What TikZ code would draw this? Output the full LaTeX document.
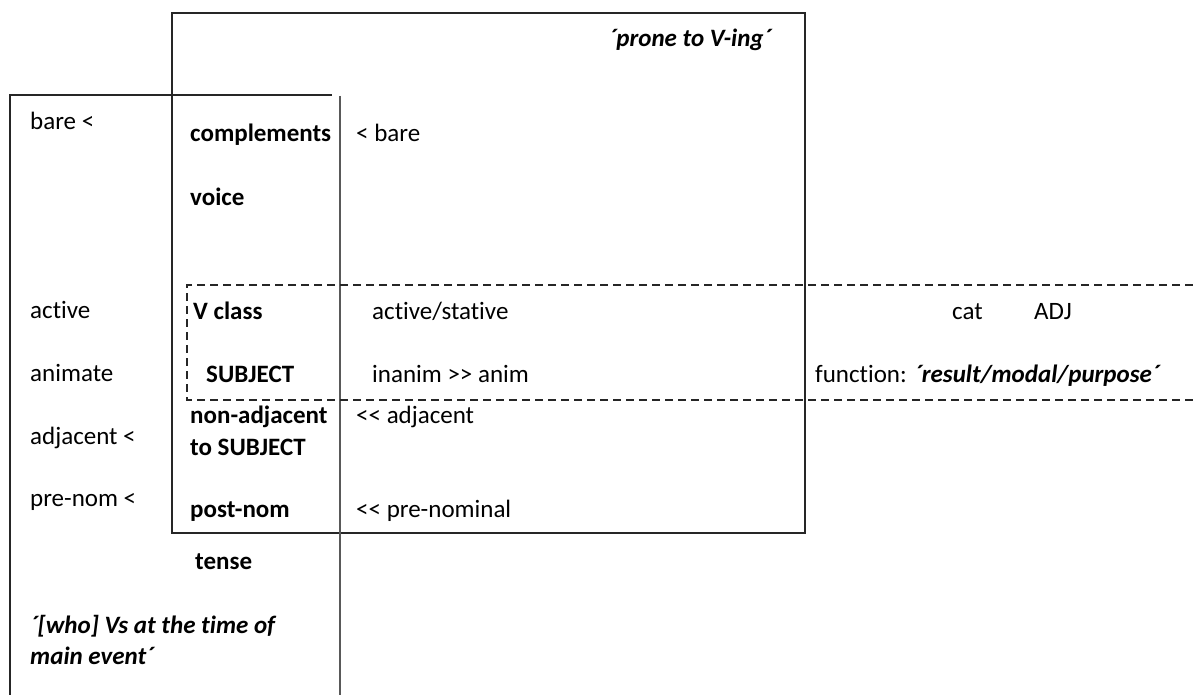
\documentclass[tikz,border=0pt]{standalone}
\usepackage{fontspec}
\setmainfont{Carlito}[Ligatures={TeX,NoCommon}]
% keep << and >> as two separate signs
\newcommand{\dbl}[1]{#1\kern0pt#1}
\begin{document}
\begin{tikzpicture}[x=1pt,y=-1pt,
  lbl/.style={anchor=base west,inner sep=0pt,font=\fontsize{25}{32}\selectfont},
  feat/.style={lbl,font=\fontsize{25}{32}\selectfont\bfseries},
  gloss/.style={lbl,font=\fontsize{25}{32}\selectfont\bfseries\itshape},
  frame/.style={line width=1.2pt,draw=black!85},
  dash box/.style={line width=1.2pt,draw=black!85,dash pattern=on 8pt off 5pt}]
\useasboundingbox (0,0) rectangle (1193,695);

% outer box: 'prone to V-ing'
\draw[frame] (172,13) rectangle (805,533);
% left open box
\draw[frame] (10,695) -- (10,95) -- (332,95);
\draw[frame,draw=black!65] (340,96) -- (340,695);
% dashed band
\draw[dash box] (1193,285) -- (187,285) -- (187,400) -- (1193,400);

% texts
\node[gloss,anchor=base] (prone) at (690,47) {´prone to V-ing´};

\node[lbl] (bareL) at (30,130) {bare <};
\node[feat] (compl) at (190,142) {complements};
\node[lbl] (bareR) at (356,142) {< bare};
\node[feat] (voice) at (190,205) {voice};

\node[lbl] (activeL) at (30,318) {active};
\node[feat] (vclass) at (193,319) {V class};
\node[lbl] (actstat) at (372,319) {active/stative};
\node[lbl] (cat) at (952,319) {cat};
\node[lbl] (adj) at (1034,319) {ADJ};

\node[lbl] (animL) at (30,381) {animate};
\node[feat] (subj) at (206,382) {SUBJECT};
\node[lbl] (inanim) at (372,382) {inanim \dbl{>} anim};
\node[lbl] (func) at (815,382) {function: \textbf{\textit{´result/modal/purpose´}}};

\node[lbl] (adjL) at (30,444) {adjacent <};
\node[feat] (nonadj) at (190,423) {non-adjacent};
\node[feat] (tosubj) at (190,455) {to SUBJECT};
\node[lbl] (adjR) at (356,423) {\dbl{<} adjacent};

\node[lbl] (prenomL) at (30,506) {pre-nom <};
\node[feat] (postnom) at (190,517) {post-nom};
\node[lbl] (prenomR) at (356,517) {\dbl{<} pre-nominal};

\node[feat] (tense) at (195,569) {tense};
\node[gloss] (who) at (30,633) {´[who] Vs at the time of};
\node[gloss] (mainev) at (30,664) {main event´};
\end{tikzpicture}
\end{document}
